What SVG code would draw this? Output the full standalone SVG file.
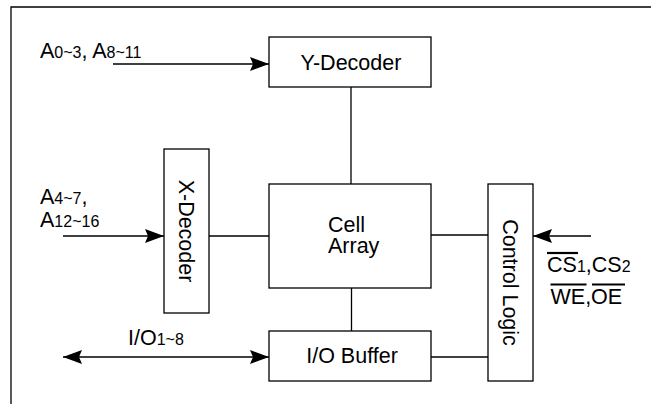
<svg xmlns="http://www.w3.org/2000/svg" width="651" height="404" viewBox="0 0 651 404">
<style>
.box{fill:#fff;stroke:#000;stroke-width:1.3}
.ln{fill:none;stroke:#000;stroke-width:1.3}
.t{font-family:"Liberation Sans",Arial,Helvetica,sans-serif;font-size:21.5px;fill:#000}
.s{font-size:16px}
.ol{stroke:#000;stroke-width:2.2}
</style>
<defs>
<marker id="ah" markerUnits="userSpaceOnUse" markerWidth="22" markerHeight="16" viewBox="-20 -8 22 16" refX="0" refY="0" orient="auto-start-reverse">
<path d="M0,0 L-19,-7 L-16,0 L-19,7 Z" fill="#000"/>
</marker>
</defs>
<rect width="651" height="404" fill="#fff"/>
<g id="frame">
<path class="ln" d="M11,404 V7 H651"/>
</g>
<g id="connectors">
<line class="ln" x1="113" y1="64" x2="269" y2="64" marker-end="url(#ah)"/>
<line class="ln" x1="63" y1="236" x2="164" y2="236" marker-end="url(#ah)"/>
<line class="ln" x1="209" y1="236" x2="269" y2="236"/>
<line class="ln" x1="351" y1="87" x2="351" y2="184"/>
<line class="ln" x1="351.5" y1="288" x2="351.5" y2="331"/>
<line class="ln" x1="431" y1="235" x2="488" y2="235"/>
<line class="ln" x1="431" y1="357" x2="488" y2="357"/>
<line class="ln" x1="591" y1="236" x2="533" y2="236" marker-end="url(#ah)"/>
<line class="ln" x1="63" y1="357" x2="269" y2="357" marker-start="url(#ah)" marker-end="url(#ah)"/>
</g>
<g id="y-decoder">
<rect class="box" x="269" y="37" width="162" height="50"/>
<text class="t" x="351" y="70" text-anchor="middle">Y-Decoder</text>
</g>
<g id="x-decoder">
<rect class="box" x="164" y="149" width="45" height="164"/>
<text class="t" transform="translate(179,231) rotate(90)" text-anchor="middle">X-Decoder</text>
</g>
<g id="cell-array">
<rect class="box" x="269" y="184" width="162" height="104"/>
<text class="t" x="328" y="232">Cell</text>
<text class="t" x="328" y="253">Array</text>
</g>
<g id="io-buffer">
<rect class="box" x="269" y="331" width="162" height="50"/>
<text class="t" x="352" y="363" text-anchor="middle">I/O Buffer</text>
</g>
<g id="control-logic">
<rect class="box" x="488" y="184" width="45" height="197"/>
<text class="t" transform="translate(503,282.5) rotate(90)" text-anchor="middle">Control Logic</text>
</g>
<g id="labels">
<text class="t" x="40" y="58">A<tspan class="s">0~3</tspan>, A<tspan class="s">8~11</tspan></text>
<text class="t" x="40" y="204">A<tspan class="s">4~7</tspan>,</text>
<text class="t" x="40" y="227">A<tspan class="s">12~16</tspan></text>
<text class="t" x="128" y="345">I/O<tspan class="s">1~8</tspan></text>
<text class="t" x="547" y="272">CS<tspan class="s">1</tspan>,CS<tspan class="s">2</tspan></text>
<text class="t" x="550.5" y="304">WE,OE</text>
<line class="ol" x1="547" y1="253" x2="578" y2="253"/>
<line class="ol" x1="550.5" y1="284.5" x2="586.5" y2="284.5"/>
<line class="ol" x1="592" y1="284.5" x2="625" y2="284.5"/>
</g>
</svg>
